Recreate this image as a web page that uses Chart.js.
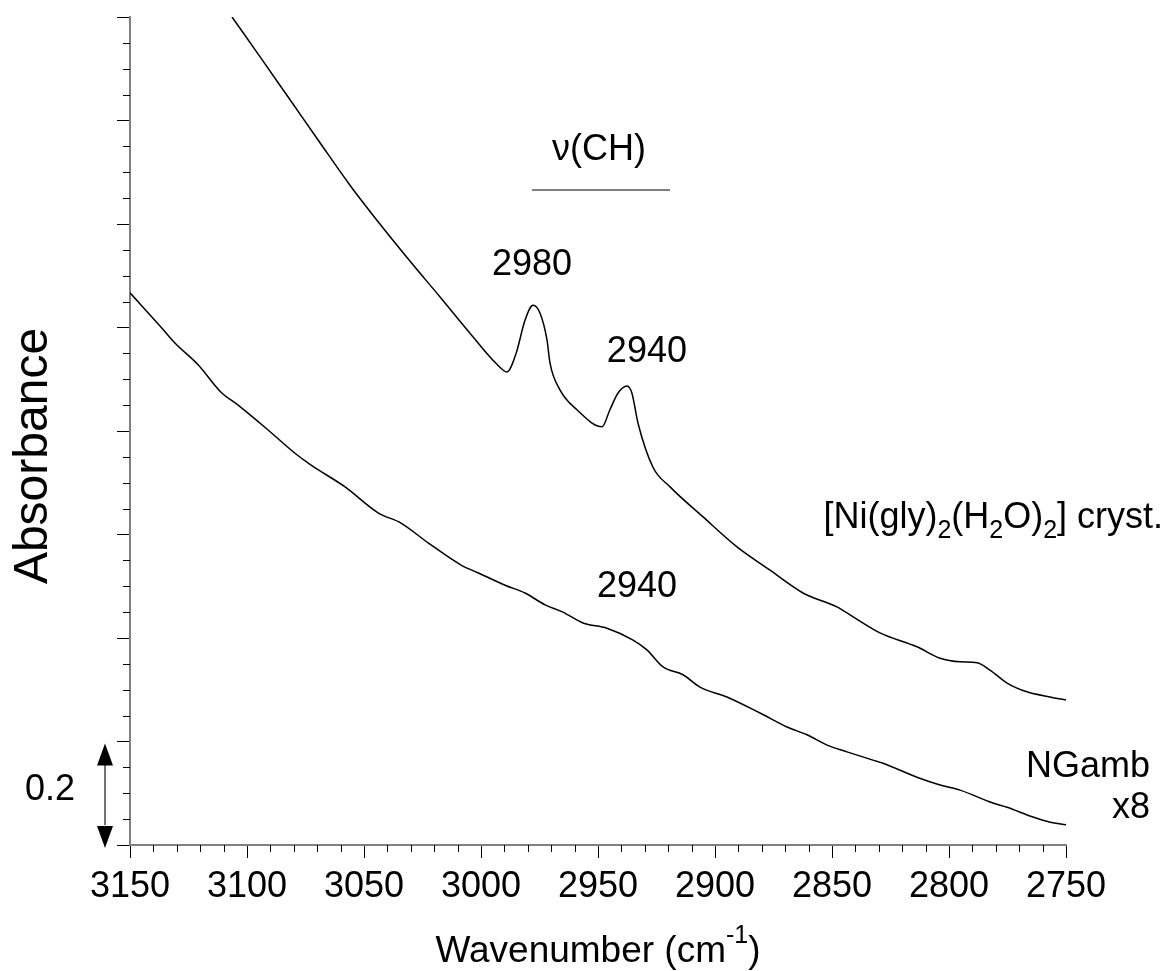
<!DOCTYPE html>
<html>
<head>
<meta charset="utf-8">
<title>IR absorbance - v(CH) region</title>
<script src="https://cdn.jsdelivr.net/npm/chart.js@4.4.1/dist/chart.umd.min.js"></script>
<style>
  html, body { margin: 0; padding: 0; background: #fff; }
  #wrap { width: 1170px; height: 971px; }
</style>
</head>
<body>
<div id="wrap"><canvas id="spectrum" width="1170" height="971"></canvas></div>
<script>
// IR spectra in the v(CH) region

// [Ni(gly)2(H2O)2] cryst.
const crystWavenumber = [3106.4, 3094.4, 3081.6, 3068.8, 3056.0, 3043.2, 3030.3, 3017.5, 3004.7, 2993.2,
    2988.9, 2985.0, 2981.2, 2977.8, 2974.8, 2971.8, 2970.5, 2966.2, 2959.0, 2948.3,
    2944.9, 2941.5, 2937.6, 2935.5, 2932.9, 2926.5, 2919.2, 2905.1, 2890.6, 2876.5,
    2862.4, 2847.9, 2841.0, 2829.5, 2813.7, 2803.8, 2795.3, 2788.0, 2782.5, 2775.2,
    2766.7, 2756.8, 2750.0];
const crystAbsorbance = [1.600, 1.523, 1.440, 1.357, 1.275, 1.200, 1.128, 1.059, 0.989, 0.929,
    0.914, 0.950, 1.014, 1.043, 1.028, 0.976, 0.931, 0.879, 0.841, 0.808,
    0.841, 0.873, 0.887, 0.873, 0.815, 0.730, 0.692, 0.634, 0.576, 0.531,
    0.487, 0.460, 0.441, 0.410, 0.383, 0.361, 0.354, 0.352, 0.338, 0.313,
    0.296, 0.286, 0.280];

// NGamb x8
const ngambWavenumber = [3150.0, 3136.8, 3130.8, 3120.9, 3111.1, 3103.8, 3091.0, 3079.5, 3072.6, 3058.1,
    3044.0, 3034.2, 3022.6, 3008.5, 3001.3, 2989.7, 2981.2, 2972.6, 2965.0, 2956.4,
    2946.2, 2935.0, 2929.1, 2922.2, 2913.7, 2906.4, 2894.9, 2880.8, 2869.2, 2860.7,
    2852.1, 2843.6, 2832.5, 2828.2, 2813.7, 2803.8, 2795.3, 2781.2, 2775.2, 2764.1,
    2756.8, 2750.0];
const ngambAbsorbance = [1.067, 1.001, 0.970, 0.928, 0.875, 0.850, 0.802, 0.757, 0.734, 0.692,
    0.642, 0.622, 0.584, 0.541, 0.526, 0.502, 0.487, 0.464, 0.450, 0.429,
    0.419, 0.396, 0.377, 0.344, 0.329, 0.305, 0.286, 0.255, 0.228, 0.213,
    0.193, 0.180, 0.164, 0.158, 0.131, 0.116, 0.106, 0.081, 0.073, 0.054,
    0.044, 0.039];

// axis ticks
const xTickLabels = [3150, 3100, 3050, 3000, 2950, 2900, 2850, 2800, 2750];
const yTickValues = [0, 0.2, 0.4, 0.6, 0.8, 1.0, 1.2, 1.4, 1.6];

// text annotations (wavenumber / absorbance of the text anchor)
const notes = [
    { text: 'ν(CH)', wn: 2949.6, abs: 1.324 },
    { text: '2980', wn: 2978.2, abs: 1.101 },
    { text: '2940', wn: 2929.1, abs: 0.933 },
    { text: '2940', wn: 2933.3, abs: 0.479 }
];

const FONT = "'Liberation Sans', Arial, sans-serif";
Chart.defaults.font.family = FONT;
Chart.defaults.color = '#000';

function toPoints(xs, ys) {
    return xs.map((x, i) => ({ x: x, y: ys[i] }));
}

// minor ticks, labels, scale bar and formula
const decorPlugin = {
    id: 'decor',
    afterDraw(chart) {
        const { ctx, chartArea: area, scales: { x, y } } = chart;
        ctx.save();

        // minor ticks
        ctx.strokeStyle = '#000';
        ctx.lineWidth = 1;
        for (let v = 2750; v <= 3150; v += 10) {
            if (v % 50 === 0) continue;
            const px = Math.round(x.getPixelForValue(v)) + 0.5;
            ctx.beginPath();
            ctx.moveTo(px, area.bottom);
            ctx.lineTo(px, area.bottom + 7);
            ctx.stroke();
        }
        for (let i = 0; i <= 32; i++) {
            if (i % 4 === 0) continue;
            const py = Math.round(y.getPixelForValue(i * 0.05)) + 0.5;
            ctx.beginPath();
            ctx.moveTo(area.left - 7, py);
            ctx.lineTo(area.left, py);
            ctx.stroke();
        }

        // peak labels
        ctx.fillStyle = '#000';
        ctx.textAlign = 'center';
        ctx.textBaseline = 'alphabetic';
        ctx.font = '36px ' + FONT;
        notes.forEach(n => {
            ctx.fillText(n.text, x.getPixelForValue(n.wn), y.getPixelForValue(n.abs));
        });

        // v(CH) bar
        ctx.strokeStyle = '#808080';
        ctx.lineWidth = 2;
        const barY = Math.round(y.getPixelForValue(1.266));
        ctx.beginPath();
        ctx.moveTo(x.getPixelForValue(2978.2), barY);
        ctx.lineTo(x.getPixelForValue(2919.2), barY);
        ctx.stroke();

        // sample names
        ctx.textAlign = 'right';
        ctx.fillText('NGamb', x.getPixelForValue(2714.1), y.getPixelForValue(0.131));
        ctx.fillText('x8', x.getPixelForValue(2714.1), y.getPixelForValue(0.052));
        drawFormula(ctx, [['[Ni(gly)', 0], ['2', 1], ['(H', 0], ['2', 1], ['O)', 0], ['2', 1], ['] cryst.', 0]],
            x.getPixelForValue(2708.5), y.getPixelForValue(0.6126));

        // 0.2 scale bar
        const ax = area.left - 25;
        const y0 = y.getPixelForValue(0);
        const y1 = y.getPixelForValue(0.2);
        ctx.strokeStyle = '#444';
        ctx.lineWidth = 1.5;
        ctx.beginPath();
        ctx.moveTo(ax, y1 + 20);
        ctx.lineTo(ax, y0 - 20);
        ctx.stroke();
        ctx.fillStyle = '#000';
        ctx.beginPath();
        ctx.moveTo(ax, y1 + 2);
        ctx.lineTo(ax - 8, y1 + 24);
        ctx.lineTo(ax + 8, y1 + 24);
        ctx.closePath();
        ctx.fill();
        ctx.beginPath();
        ctx.moveTo(ax, y0 + 3);
        ctx.lineTo(ax - 8, y0 - 19);
        ctx.lineTo(ax + 8, y0 - 19);
        ctx.closePath();
        ctx.fill();
        ctx.textAlign = 'center';
        ctx.font = '36px ' + FONT;
        ctx.fillText('0.2', area.left - 80, 800);

        // axis titles
        drawTitleX(ctx, (area.left + area.right) / 2, 962);
        ctx.save();
        ctx.translate(34, 456);
        ctx.rotate(-Math.PI / 2);
        ctx.textAlign = 'center';
        ctx.textBaseline = 'middle';
        ctx.font = '48px ' + FONT;
        ctx.fillText('Absorbance', 0, 0);
        ctx.restore();

        ctx.restore();
    }
};

function drawFormula(ctx, parts, xRight, yBase) {
    let total = 0;
    parts.forEach(p => {
        ctx.font = (p[1] ? '25px ' : '36px ') + FONT;
        total += ctx.measureText(p[0]).width;
    });
    let cx = xRight - total;
    ctx.textAlign = 'left';
    parts.forEach(p => {
        ctx.font = (p[1] ? '25px ' : '36px ') + FONT;
        ctx.fillText(p[0], cx, yBase + (p[1] ? 10 : 0));
        cx += ctx.measureText(p[0]).width;
    });
}

function drawTitleX(ctx, cx, base) {
    const parts = [['Wavenumber (cm', 0], ['-1', 1], [')', 0]];
    let total = 0;
    parts.forEach(p => {
        ctx.font = (p[1] ? '25px ' : '37px ') + FONT;
        total += ctx.measureText(p[0]).width;
    });
    let px = cx - total / 2;
    ctx.textAlign = 'left';
    parts.forEach(p => {
        ctx.font = (p[1] ? '25px ' : '37px ') + FONT;
        ctx.fillText(p[0], px, base - (p[1] ? 19 : 0));
        px += ctx.measureText(p[0]).width;
    });
}

const lineStyle = {
    borderColor: '#000',
    borderWidth: 1.5,
    pointRadius: 0,
    fill: false,
    cubicInterpolationMode: 'monotone'
};

new Chart(document.getElementById('spectrum'), {
    type: 'line',
    data: {
        datasets: [
            Object.assign({ label: '[Ni(gly)2(H2O)2] cryst.', data: toPoints(crystWavenumber, crystAbsorbance) }, lineStyle),
            Object.assign({ label: 'NGamb x8', data: toPoints(ngambWavenumber, ngambAbsorbance) }, lineStyle)
        ]
    },
    options: {
        responsive: false,
        animation: false,
        devicePixelRatio: 1,
        layout: {
            autoPadding: false,
            padding: { left: 0, right: 104, top: 17, bottom: 0 }
        },
        plugins: {
            legend: { display: false },
            tooltip: { enabled: false }
        },
        scales: {
            x: {
                type: 'linear',
                reverse: true,
                min: 2750,
                max: 3150,
                afterBuildTicks: s => { s.ticks = xTickLabels.map(v => ({ value: v })); },
                afterFit: s => { s.height = 126; },
                ticks: {
                    font: { size: 36, lineHeight: 1.2 },
                    padding: 7,
                    maxRotation: 0,
                    autoSkip: false,
                    callback: v => String(v)
                },
                grid: {
                    drawOnChartArea: false,
                    drawTicks: true,
                    tickLength: 13,
                    tickColor: '#000',
                    lineWidth: 1
                },
                border: { display: true, color: '#808080', width: 2 }
            },
            y: {
                type: 'linear',
                min: 0,
                max: 1.6,
                afterBuildTicks: s => { s.ticks = yTickValues.map(v => ({ value: v })); },
                afterFit: s => { s.width = 130; },
                ticks: { display: false },
                grid: {
                    drawOnChartArea: false,
                    drawTicks: true,
                    tickLength: 13,
                    tickColor: '#000',
                    lineWidth: 1
                },
                border: { display: true, color: '#808080', width: 2 }
            }
        }
    },
    plugins: [decorPlugin]
});
</script>
</body>
</html>
